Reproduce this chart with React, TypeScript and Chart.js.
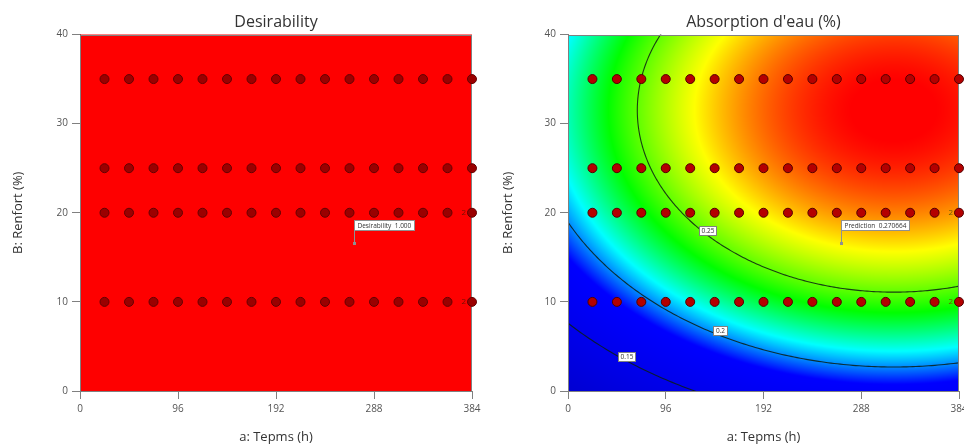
import { useEffect, useRef } from "react";
import { Chart, registerables } from "chart.js";
Chart.register(...registerables);

// ---- data ----
const timeLevels = [24, 48, 72, 96, 120, 144, 168, 192, 216, 240, 264, 288, 312, 336, 360, 384];
const renfortLevels = [35, 25, 20, 10];
const replicateA = [384, 384];
const replicateB = [20, 10];
const replicateCount = ["2", "2"];
const xTickValues = [0, 96, 192, 288, 384];
const yTickValues = [0, 10, 20, 30, 40];
const flagA = 268;
const flagB = 16.6;
const desirabilityFlag = "Desirability  1.000";
const predictionFlag = "Prediction  0.270664";
// fitted response surface (peak, A at peak, B at peak, curvature A, curvature B)
const modelCoef = [0.3004, 320, 31.5, 7.94e-7, 1.21e-4];
const contourLevels = [0.15, 0.2, 0.25];
const contourLabelText = ["0.15", "0.2", "0.25"];
const contourLabelA = [57, 149, 137];
const contourLabelB = [3.9, 6.8, 18];
const colorStops = [0.1, 0.186, 0.212, 0.238, 0.27, 0.299];
const colorRGB = [
  [0, 0, 210],
  [0, 0, 255],
  [0, 255, 255],
  [0, 255, 0],
  [255, 255, 0],
  [255, 0, 0],
];

const FONT = "'Open Sans', 'Noto Sans', sans-serif";

function surface(a: number, b: number) {
  const [peak, a0, b0, ca, cb] = modelCoef;
  return peak - ca * (a - a0) * (a - a0) - cb * (b - b0) * (b - b0);
}

function colorFor(v: number) {
  if (v <= colorStops[0]) return colorRGB[0];
  for (let i = 1; i < colorStops.length; i++) {
    if (v <= colorStops[i]) {
      const t = (v - colorStops[i - 1]) / (colorStops[i] - colorStops[i - 1]);
      const c0 = colorRGB[i - 1];
      const c1 = colorRGB[i];
      return [c0[0] + (c1[0] - c0[0]) * t, c0[1] + (c1[1] - c0[1]) * t, c0[2] + (c1[2] - c0[2]) * t];
    }
  }
  return colorRGB[colorRGB.length - 1];
}

type Kind = "desirability" | "absorption";

function drawBox(ctx: CanvasRenderingContext2D, text: string, cx: number, cy: number, fontPx: number) {
  ctx.font = `${fontPx}px ${FONT}`;
  const w = Math.ceil(ctx.measureText(text).width) + 4;
  const h = 9;
  const x0 = Math.round(cx - w / 2) + 0.5;
  const y0 = Math.round(cy - h / 2) + 0.5;
  ctx.fillStyle = "#ffffff";
  ctx.fillRect(x0, y0, w, h);
  ctx.strokeStyle = "#808080";
  ctx.lineWidth = 1;
  ctx.strokeRect(x0, y0, w, h);
  ctx.fillStyle = "#333";
  ctx.textAlign = "center";
  ctx.textBaseline = "middle";
  ctx.fillText(text, x0 + w / 2, y0 + h / 2 + 0.5);
}

function makePlugin(kind: Kind) {
  return {
    id: "surface-" + kind,
    beforeDatasetsDraw(chart: any) {
      const { ctx, chartArea } = chart;
      const { left, top, right, bottom } = chartArea;
      const xs = chart.scales.x;
      const ys = chart.scales.y;
      ctx.save();
      if (kind === "desirability") {
        ctx.fillStyle = "#fe0000";
        ctx.fillRect(left, top, right - left, bottom - top);
      } else {
        const w = Math.ceil(right - left);
        const h = Math.ceil(bottom - top);
        const off = document.createElement("canvas");
        off.width = w;
        off.height = h;
        const octx = off.getContext("2d")!;
        const img = octx.createImageData(w, h);
        for (let j = 0; j < h; j++) {
          const b = ys.getValueForPixel(top + j + 0.5);
          for (let i = 0; i < w; i++) {
            const a = xs.getValueForPixel(left + i + 0.5);
            const c = colorFor(surface(a, b));
            const k = (j * w + i) * 4;
            img.data[k] = c[0];
            img.data[k + 1] = c[1];
            img.data[k + 2] = c[2];
            img.data[k + 3] = 255;
          }
        }
        octx.putImageData(img, 0, 0);
        ctx.drawImage(off, left, top);

        // contour lines
        ctx.beginPath();
        ctx.rect(left, top, right - left, bottom - top);
        ctx.clip();
        const [peak, a0, b0, ca, cb] = modelCoef;
        ctx.strokeStyle = "rgba(10,30,20,0.85)";
        ctx.lineWidth = 1.1;
        contourLevels.forEach((lvl) => {
          const r = peak - lvl;
          if (r <= 0) return;
          const ra = Math.sqrt(r / ca);
          const rb = Math.sqrt(r / cb);
          ctx.beginPath();
          for (let s = 0; s <= 720; s++) {
            const t = (s / 720) * Math.PI * 2;
            const px = xs.getPixelForValue(a0 + ra * Math.cos(t));
            const py = ys.getPixelForValue(b0 + rb * Math.sin(t));
            if (s === 0) ctx.moveTo(px, py);
            else ctx.lineTo(px, py);
          }
          ctx.stroke();
        });
      }
      ctx.restore();
      // frame
      ctx.save();
      ctx.strokeStyle = "#808080";
      ctx.lineWidth = 1;
      ctx.strokeRect(Math.round(left) + 0.5, Math.round(top) + 0.5, Math.round(right - left) - 1, Math.round(bottom - top) - 1);
      ctx.restore();
    },
    afterDatasetsDraw(chart: any) {
      const { ctx } = chart;
      const xs = chart.scales.x;
      const ys = chart.scales.y;
      ctx.save();
      if (kind === "absorption") {
        contourLabelText.forEach((t, i) => {
          drawBox(ctx, t, xs.getPixelForValue(contourLabelA[i]), ys.getPixelForValue(contourLabelB[i]), 6.5);
        });
      }
      // replicate counts
      ctx.font = `8px ${FONT}`;
      ctx.fillStyle = kind === "desirability" ? "#701000" : "#6a5a00";
      ctx.textAlign = "right";
      ctx.textBaseline = "middle";
      replicateCount.forEach((t, i) => {
        ctx.fillText(t, xs.getPixelForValue(replicateA[i]) - 6, ys.getPixelForValue(replicateB[i]));
      });
      // flag
      const px = Math.round(xs.getPixelForValue(flagA)) + 0.5;
      const py = Math.round(ys.getPixelForValue(flagB));
      const text = kind === "desirability" ? desirabilityFlag : predictionFlag;
      ctx.font = `6.5px ${FONT}`;
      const w = Math.ceil(ctx.measureText(text).width) + 6;
      const h = 10;
      const by = py - 13 - h + 0.5;
      ctx.strokeStyle = "#909090";
      ctx.lineWidth = 1;
      ctx.beginPath();
      ctx.moveTo(px, py);
      ctx.lineTo(px, by + h);
      ctx.stroke();
      ctx.fillStyle = "#909090";
      ctx.fillRect(px - 1.5, py - 1, 3, 3);
      ctx.fillStyle = "#ffffff";
      ctx.fillRect(px, by, w, h);
      ctx.strokeRect(px, by, w, h);
      ctx.fillStyle = "#333";
      ctx.textAlign = "left";
      ctx.textBaseline = "middle";
      ctx.fillText(text, px + 3, by + h / 2 + 0.5);
      ctx.restore();
    },
  };
}

function Panel(props: {
  kind: Kind;
  title: string;
  canvasWidth: number;
  yAxisWidth: number;
  rightPad: number;
  yTitlePad: number;
  left: number;
}) {
  const ref = useRef<HTMLCanvasElement | null>(null);
  useEffect(() => {
    if (!ref.current) return;
    const points: { x: number; y: number }[] = [];
    renfortLevels.forEach((b) => timeLevels.forEach((a) => points.push({ x: a, y: b })));
    const des = props.kind === "desirability";
    const chart = new Chart(ref.current, {
      type: "scatter",
      data: {
        datasets: [
          {
            data: points,
            backgroundColor: des ? "#9a0000" : "#b40000",
            borderColor: des ? "#640000" : "#520000",
            borderWidth: 1,
            pointRadius: 4.5,
            clip: false as any,
          },
        ],
      },
      options: {
        animation: false,
        responsive: false,
        events: [],
        layout: { padding: { left: 0, right: props.rightPad, top: 0, bottom: 0 } },
        plugins: {
          legend: { display: false },
          tooltip: { enabled: false },
          title: {
            display: true,
            text: props.title,
            fullSize: false,
            color: "#333",
            font: { family: FONT, size: 16, weight: "normal" as any },
            padding: { top: 13, bottom: 2.3 },
          },
        },
        scales: {
          x: {
            type: "linear",
            min: 0,
            max: 384,
            afterBuildTicks: (s: any) => {
              s.ticks = xTickValues.map((v) => ({ value: v }));
            },
            afterFit: (s: any) => {
              s.height = 54;
            },
            ticks: { color: "#555", font: { family: FONT, size: 10 }, padding: 4, maxRotation: 0 },
            grid: { drawOnChartArea: false, tickLength: 8, color: "#808080" },
            border: { display: true, color: "#808080" },
            title: {
              display: true,
              text: "a: Tepms (h)",
              color: "#333",
              font: { family: FONT, size: 13 },
              padding: { top: 0, bottom: 0 },
            },
          },
          y: {
            type: "linear",
            min: 0,
            max: 40,
            afterBuildTicks: (s: any) => {
              s.ticks = yTickValues.map((v) => ({ value: v }));
            },
            afterFit: (s: any) => {
              s.width = props.yAxisWidth;
            },
            ticks: { color: "#555", font: { family: FONT, size: 10 }, padding: 4 },
            grid: { drawOnChartArea: false, tickLength: 8, color: "#808080" },
            border: { display: true, color: "#808080" },
            title: {
              display: true,
              text: "B: Renfort (%)",
              color: "#333",
              font: { family: FONT, size: 13 },
              padding: { top: props.yTitlePad, bottom: 0 },
            },
          },
        },
      } as any,
      plugins: [makePlugin(props.kind)],
    });
    return () => chart.destroy();
  }, []);
  return (
    <div style={{ position: "absolute", left: props.left, top: 0, width: 482, height: 445, overflow: "hidden" }}>
      <canvas ref={ref} width={props.canvasWidth} height={445} style={{ display: "block" }} />
    </div>
  );
}

export default function App() {
  useEffect(() => {
    document.body.style.margin = "0";
    document.body.style.overflow = "hidden";
  }, []);
  return (
    <div style={{ position: "relative", width: 964, height: 445, overflow: "hidden", background: "#fff" }}>
      <Panel kind="desirability" title="Desirability" canvasWidth={486} yAxisWidth={80} rightPad={14} yTitlePad={10} left={0} />
      <Panel kind="absorption" title="Absorption d'eau (%)" canvasWidth={497} yAxisWidth={86} rightPad={20} yTitlePad={18} left={482} />
    </div>
  );
}
